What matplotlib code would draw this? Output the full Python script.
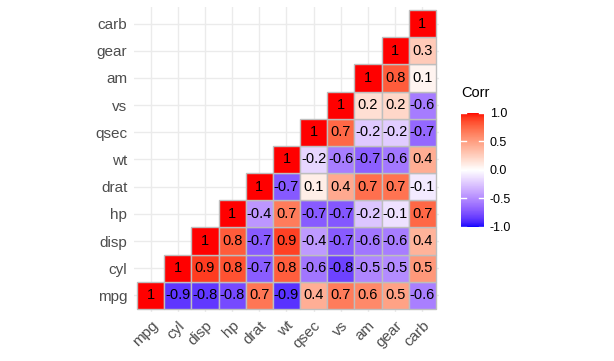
import numpy as np
import matplotlib
matplotlib.use('Agg')
import matplotlib.pyplot as plt
from matplotlib.colors import ListedColormap, Normalize
from matplotlib.colorbar import ColorbarBase

plt.rcParams['font.family'] = ['Liberation Sans', 'DejaVu Sans']

vars_ = ['mpg', 'cyl', 'disp', 'hp', 'drat', 'wt', 'qsec', 'vs', 'am', 'gear', 'carb']

# upper triangle of the correlation matrix, row by row (values after the diagonal)
upper = [
    [-0.852, -0.848, -0.776, 0.681, -0.868, 0.419, 0.664, 0.600, 0.480, -0.551],
    [0.902, 0.832, -0.700, 0.782, -0.591, -0.811, -0.523, -0.493, 0.527],
    [0.791, -0.710, 0.888, -0.434, -0.710, -0.591, -0.556, 0.395],
    [-0.449, 0.659, -0.708, -0.723, -0.243, -0.126, 0.748],
    [-0.712, 0.091, 0.440, 0.713, 0.700, -0.091],
    [-0.175, -0.555, -0.692, -0.583, 0.428],
    [0.745, -0.230, -0.213, -0.656],
    [0.168, 0.206, -0.570],
    [0.794, 0.058],
    [0.274],
]

n = len(vars_)
corr = np.eye(n)
for i, row in enumerate(upper):
    for k, v in enumerate(row):
        corr[i, i + 1 + k] = v
        corr[i + 1 + k, i] = v


# blue - white - red gradient, interpolated in Lab like ggplot's gradient2
def to_lab(rgb):
    c = np.asarray(rgb, float)
    c = np.where(c > 0.04045, ((c + 0.055) / 1.055) ** 2.4, c / 12.92)
    m = np.array([[0.4124, 0.3576, 0.1805], [0.2126, 0.7152, 0.0722], [0.0193, 0.1192, 0.9505]])
    xyz = m @ c / np.array([0.95047, 1.0, 1.08883])
    f = np.where(xyz > 0.008856, np.cbrt(xyz), 7.787 * xyz + 16 / 116)
    return np.array([116 * f[1] - 16, 500 * (f[0] - f[1]), 200 * (f[1] - f[2])])


def from_lab(lab):
    L, a, b = lab
    fy = (L + 16) / 116
    f = np.array([fy + a / 500, fy, fy - b / 200])
    xyz = np.where(f ** 3 > 0.008856, f ** 3, (f - 16 / 116) / 7.787) * np.array([0.95047, 1.0, 1.08883])
    mi = np.array([[3.2406, -1.5372, -0.4986], [-0.9689, 1.8758, 0.0415], [0.0557, -0.2040, 1.0570]])
    c = mi @ xyz
    c = np.where(c > 0.0031308, 1.055 * np.clip(c, 0, None) ** (1 / 2.4) - 0.055, 12.92 * c)
    return np.clip(c, 0, 1)


lab_blue, lab_white, lab_red = to_lab([0, 0, 1]), to_lab([1, 1, 1]), to_lab([1, 0, 0])
cols = []
for t in np.linspace(-1, 1, 256):
    if t < 0:
        cols.append(from_lab(lab_white + (lab_blue - lab_white) * (-t)))
    else:
        cols.append(from_lab(lab_white + (lab_red - lab_white) * t))
cmap = ListedColormap(cols)
norm = Normalize(-1, 1)

fig = plt.figure(figsize=(6.14, 3.61), dpi=100)
ax = fig.add_axes([0.2187, 0.1366, 0.4958, 0.8432])

for xi in range(n):
    for yi in range(n):
        if yi <= xi:
            v = corr[yi, xi]
            ax.add_patch(plt.Rectangle((xi - 0.5, yi - 0.5), 1, 1, facecolor=cmap(norm(v)),
                                       edgecolor='#BEBEBE', linewidth=1, zorder=2))
            lab = '%g' % round(v, 1)
            ax.text(xi, yi, lab, ha='center', va='center', fontsize=10.5, color='black', zorder=3)

ax.set_xlim(-0.6, n - 0.4)
ax.set_ylim(-0.6, n - 0.4)
ax.set_xticks(range(n))
ax.set_yticks(range(n))
ax.set_xticklabels(vars_, rotation=45, ha='right', va='top', rotation_mode='anchor', fontsize=11, color='#4D4D4D')
ax.set_yticklabels(vars_, fontsize=11, color='#4D4D4D')
ax.tick_params(length=0, pad=5)
ax.grid(True, color='#EBEBEB', linewidth=1, zorder=0)
ax.set_axisbelow(True)
for s in ax.spines.values():
    s.set_visible(False)

cax = fig.add_axes([0.7508, 0.3712, 0.0375, 0.3158])
cb = ColorbarBase(cax, cmap=cmap, norm=norm, ticks=[-1, -0.5, 0, 0.5, 1])
cb.outline.set_visible(False)
cb.ax.set_yticklabels(['-1.0', '-0.5', '0.0', '0.5', '1.0'], fontsize=9)
cb.ax.tick_params(length=0, pad=4)
for t in [-1, -0.5, 0, 0.5, 1]:
    cax.plot([0, 0.2], [t, t], color='white', linewidth=1, transform=cax.get_yaxis_transform(), clip_on=False)
    cax.plot([0.8, 1], [t, t], color='white', linewidth=1, transform=cax.get_yaxis_transform(), clip_on=False)
fig.text(0.7508, 0.723, 'Corr', fontsize=10.5, ha='left', va='bottom')

fig.savefig('out.png', dpi=100)
